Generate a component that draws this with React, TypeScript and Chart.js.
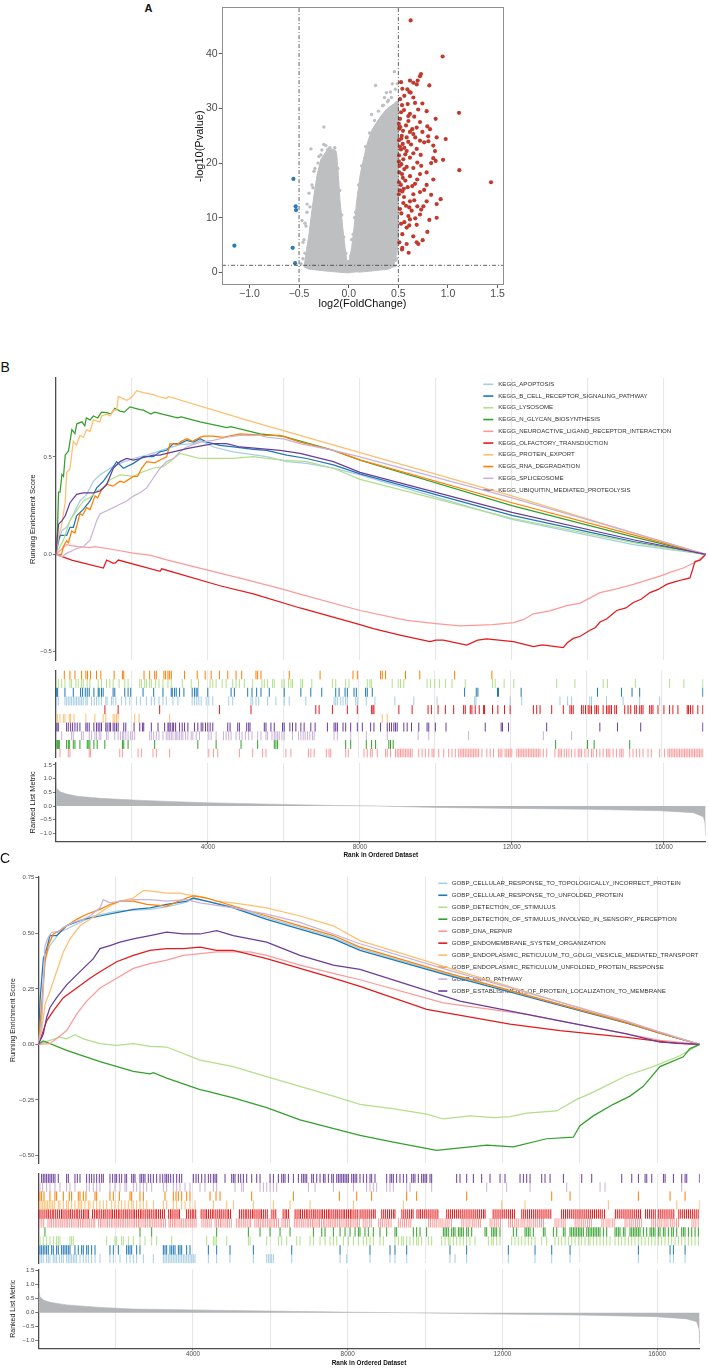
import React, { useEffect, useRef } from 'react';
import { Chart, registerables } from 'chart.js';

Chart.register(...registerables);
const FONT = "'Liberation Sans', Arial, Helvetica, sans-serif";
Chart.defaults.font.family = FONT;

type Pt = [number, number];

// ================= Panel A : volcano =================
const VOLCANO_X_TICKS = [-1.0, -0.5, 0.0, 0.5, 1.0, 1.5];
const VOLCANO_Y_TICKS = [0, 10, 20, 30, 40];
const FC_CUTOFFS = [-0.5, 0.5];
const P_CUTOFF = 1.3;

const UP_GENES: Pt[] = [
  [0.624,46.1],[0.946,39.5],[0.728,36.3],[0.718,35.9],[0.695,35.1],[0.617,35.1],[0.651,34.7],[0.527,34.8],[0.812,34.2],[0.685,34.4],
  [0.540,33.6],[0.591,33.5],[0.611,33.0],[0.624,32.9],[0.560,32.3],[0.651,32.0],[0.517,31.7],[0.668,31.0],[0.742,30.9],[0.594,30.8],
  [0.537,30.6],[0.557,29.7],[0.785,29.5],[1.111,29.2],[0.527,29.3],[0.617,29.0],[0.876,28.1],[0.601,27.7],[0.517,28.1],[0.718,27.5],
  [0.577,26.9],[0.510,26.3],[0.685,26.5],[0.792,26.7],[0.547,25.9],[0.617,25.7],[0.742,25.7],[0.819,26.2],[0.651,25.3],[0.534,25.0],
  [0.584,24.7],[0.977,24.4],[0.886,24.7],[0.802,24.0],[0.507,24.2],[0.718,24.1],[0.628,23.4],[0.544,23.5],[0.685,22.6],[0.852,23.2],
  [0.527,22.5],[0.584,22.2],[0.869,22.2],[0.651,21.8],[0.725,21.5],[0.507,21.4],[0.617,21.0],[0.852,20.9],[0.550,20.7],[0.876,20.4],
  [0.691,20.1],[0.513,19.5],[0.584,19.3],[0.651,19.1],[1.114,18.7],[0.785,18.3],[0.537,18.0],[0.718,18.0],[0.617,17.6],[0.852,17.0],
  [1.433,16.5],[0.570,16.8],[0.507,16.5],[0.668,16.2],[0.785,16.0],[0.594,15.6],[0.517,15.0],[0.718,14.7],[0.651,14.3],[0.557,13.8],
  [0.926,13.4],[0.785,13.0],[0.617,13.0],[0.886,12.5],[0.577,12.2],[0.691,12.1],[0.752,12.1],[0.517,11.6],[0.634,11.3],[0.718,10.6],
  [0.601,10.3],[0.886,10.0],[0.812,9.6],[0.617,9.7],[0.527,8.9],[0.685,8.7],[0.584,8.2],[0.792,7.4],[0.540,7.0],[0.745,5.9],
  [0.701,5.2],[0.584,5.2],[0.540,4.5],[0.537,4.2],[0.604,3.6],[0.685,5.5],
  [0.505,27.2],[0.52,26.6],[0.53,24.5],[0.515,23.0],[0.56,22.8],[0.505,20.3],[0.53,19.8],[0.56,18.9],[0.51,18.3],[0.545,17.3],
  [0.525,16.0],[0.555,15.3],[0.505,14.3],[0.54,14.8],[0.57,21.6],[0.60,23.9],[0.64,26.2],[0.66,28.5],[0.60,28.6],[0.70,29.8],
  [0.67,24.7],[0.76,23.8],[0.73,19.5],[0.69,17.0],[0.64,15.8],[0.76,15.1],[0.83,14.2],[0.66,13.2],[0.55,12.7],[0.61,11.9],
  [0.53,10.8],[0.67,9.9],[0.56,9.2],[0.61,8.6],[0.73,11.5],[0.65,6.6],[0.51,5.5],[0.83,20.0],[0.95,20.6],[0.80,24.9]
];
const DOWN_GENES: Pt[] = [[-0.557,17.1],[-0.534,12.1],[-0.530,11.4],[-0.564,4.5],[-0.540,1.7],[-1.151,4.9]];
const NS_OUTLIERS: Pt[] = [
  [-0.47,9.5],[-0.45,6],[-0.43,8.5],[-0.42,12.5],[-0.40,14.5],[-0.38,22.6],[-0.37,16],[-0.35,18.5],[-0.33,13],[-0.31,20],
  [-0.28,21.5],[-0.25,26.6],[-0.25,23.4],[-0.21,22.5],[-0.19,22.8],[-0.16,21.8],[-0.44,3.5],[-0.46,2.5],[-0.48,1.6],[0.03,6],
  [0.06,10],[0.10,14.5],[0.14,18],[0.18,21],[0.22,24.5],[0.23,28.9],[0.27,34.2],[0.30,27.5],[0.34,30.5],[0.36,32],
  [0.38,32.9],[0.40,31.5],[0.42,33],[0.44,34.5],[0.46,36.7],[0.47,29],[0.48,31],[0.49,28],[0.46,4],[0.48,2.5],[0.49,6],[0.44,1.5],
  [-0.46,5.5],[-0.44,9],[-0.42,11],[-0.41,4.5],[-0.39,12],[-0.36,15.5],[-0.34,19],[-0.30,21.2],[-0.27,22.4],[-0.23,23.2],
  [-0.14,22.8],[-0.11,19],[-0.09,15],[-0.07,10.5],[-0.05,6.5],[-0.03,3.5],[0.02,3],[0.045,7],[0.07,11],[0.1,16],
  [0.13,19.5],[0.17,23],[0.21,25.5],[0.26,27.8],[0.30,29.5],[0.35,30.6],[0.39,31.2],[0.43,32],[0.47,33.5],[0.49,34.5],
  [0.45,29.5],[0.47,2.2],[0.49,4.2],[0.46,1.2]
];
const NS_CLOUD_OUTLINE: Pt[] = [
  [0.0,-0.1],[-0.1,0.05],[-0.2,0.2],[-0.3,0.4],[-0.4,0.6],[-0.45,1.0],[-0.43,3.4],[-0.40,7],[-0.38,10],[-0.35,14.1],
  [-0.32,17.7],[-0.28,20.7],[-0.22,22.3],[-0.17,22.6],[-0.13,22.3],[-0.12,21.5],[-0.104,17.7],[-0.087,13],[-0.06,8.2],[-0.037,4.6],
  [-0.02,2.2],[0.007,2.2],[0.03,4.6],[0.054,8.2],[0.08,13],[0.114,17.7],[0.148,20.7],[0.188,23.7],[0.232,26],[0.315,28.4],
  [0.383,29.9],[0.45,30.8],[0.5,31.4],[0.5,6],[0.483,3.4],[0.45,1.0],[0.4,0.6],[0.3,0.4],[0.2,0.2],[0.1,0.05]
];

// ================= GSEA shared =================
const N_GENES = 17100;
const RANK_GRID = [2000, 4000, 6000, 8000, 10000, 12000, 14000, 16000];
const RANK_LABELED = [4000, 8000, 12000, 16000];
const METRIC_TICKS = [-1.0, -0.5, 0.0, 0.5, 1.0, 1.5];
const PAIRED = ['#A6CEE3','#1F78B4','#B2DF8A','#33A02C','#FB9A99','#E31A1C','#FDBF6F','#FF7F00','#CAB2D6','#6A3D9A'];

// ================= Panel B : KEGG =================
const KEGG_NAMES = [
  'KEGG_APOPTOSIS','KEGG_B_CELL_RECEPTOR_SIGNALING_PATHWAY','KEGG_LYSOSOME','KEGG_N_GLYCAN_BIOSYNTHESIS',
  'KEGG_NEUROACTIVE_LIGAND_RECEPTOR_INTERACTION','KEGG_OLFACTORY_TRANSDUCTION','KEGG_PROTEIN_EXPORT',
  'KEGG_RNA_DEGRADATION','KEGG_SPLICEOSOME','KEGG_UBIQUITIN_MEDIATED_PROTEOLYSIS'
];
const ES_KEGG_APOPTOSIS: Pt[] = [[0,0],[44,0.039],[158,0.123],[283,0.139],[459,0.207],[634,0.274],[810,0.308],[985,0.375],[1160,0.408],[1424,0.442],[1687,0.467],[2038,0.492],[2389,0.509],[2652,0.526],[2915,0.543],[3266,0.563],[3617,0.568],[3792,0.585],[4143,0.551],[4670,0.526],[5547,0.501],[6073,0.476],[6600,0.467],[7302,0.442],[8004,0.408],[12000,0.18],[15195,0.05],[17100,0]];
const ES_KEGG_B_CELL: Pt[] = [[0,0],[70,0.072],[108,0.097],[283,0.097],[371,0.139],[459,0.139],[546,0.198],[722,0.231],[897,0.274],[1073,0.341],[1248,0.375],[1424,0.425],[1599,0.476],[1775,0.442],[2038,0.467],[2301,0.501],[2564,0.501],[2740,0.526],[2915,0.534],[3090,0.568],[3266,0.568],[3442,0.585],[3617,0.576],[3792,0.593],[3968,0.576],[4143,0.568],[4319,0.559],[4670,0.551],[5196,0.539],[5547,0.534],[6073,0.509],[6600,0.492],[7302,0.459],[8004,0.413],[12000,0.20],[15195,0.065],[17100,0]];
const ES_KEGG_LYSOSOME: Pt[] = [[0,0],[108,0.039],[196,0.073],[371,0.173],[546,0.224],[722,0.274],[897,0.291],[1073,0.325],[1248,0.341],[1424,0.383],[1687,0.408],[2038,0.40],[2301,0.425],[2564,0.442],[2827,0.45],[3003,0.476],[3266,0.518],[3442,0.509],[3792,0.492],[4143,0.492],[4670,0.492],[5196,0.501],[5547,0.492],[5986,0.484],[6600,0.476],[7302,0.442],[8004,0.385],[12000,0.185],[15195,0.06],[17100,0]];
const ES_KEGG_N_GLYCAN: Pt[] = [[0,0],[44,0.14],[70,0.32],[110,0.32],[158,0.41],[200,0.40],[246,0.51],[330,0.53],[421,0.64],[500,0.62],[550,0.67],[686,0.68],[760,0.66],[800,0.70],[900,0.69],[985,0.71],[1100,0.70],[1200,0.73],[1336,0.727],[1450,0.72],[1550,0.75],[1687,0.735],[1800,0.73],[1950,0.757],[2213,0.743],[2300,0.74],[2500,0.72],[2600,0.73],[2827,0.718],[3200,0.70],[3300,0.705],[3792,0.68],[4500,0.65],[4600,0.655],[5372,0.618],[5986,0.606],[7302,0.534],[8004,0.483],[12000,0.25],[15195,0.09],[17100,0]];
const ES_KEGG_NEUROACTIVE: Pt[] = [[0,0],[283,0.05],[400,0.045],[600,0.04],[900,0.035],[1029,0.04],[1500,0.025],[2038,0.006],[2500,-0.005],[2915,-0.028],[3967,-0.079],[5000,-0.13],[5986,-0.18],[6424,-0.204],[8003,-0.288],[9232,-0.339],[10000,-0.355],[10634,-0.367],[11500,-0.36],[12037,-0.35],[12300,-0.335],[12564,-0.305],[13000,-0.29],[13441,-0.263],[13800,-0.25],[14318,-0.196],[14700,-0.18],[15195,-0.154],[15600,-0.13],[15897,-0.112],[16200,-0.09],[16510,-0.07],[16863,-0.037],[17100,0]];
const ES_KEGG_OLFACTORY: Pt[] = [[0,0],[415,-0.029],[1249,-0.07],[1336,-0.029],[1500,-0.045],[1555,-0.045],[1643,-0.029],[2740,-0.087],[2784,-0.074],[4319,-0.161],[5196,-0.203],[6424,-0.275],[8003,-0.36],[8352,-0.381],[9055,-0.414],[9845,-0.448],[10000,-0.44],[10196,-0.44],[10810,-0.465],[11100,-0.44],[11337,-0.434],[12037,-0.448],[12564,-0.473],[12800,-0.465],[13353,-0.478],[13450,-0.455],[13616,-0.431],[13800,-0.42],[14055,-0.389],[14200,-0.375],[14318,-0.347],[14500,-0.33],[14757,-0.288],[15000,-0.275],[15195,-0.247],[15400,-0.23],[15634,-0.196],[15850,-0.18],[16073,-0.154],[16300,-0.14],[16511,-0.129],[16686,-0.121],[16818,-0.037],[16950,-0.03],[17100,0]];
const ES_KEGG_PROTEIN_EXPORT: Pt[] = [[0,0],[70,0.09],[158,0.16],[246,0.27],[283,0.42],[371,0.44],[420,0.52],[458,0.58],[540,0.56],[634,0.61],[720,0.60],[810,0.64],[900,0.63],[985,0.69],[1160,0.68],[1200,0.71],[1336,0.72],[1420,0.71],[1511,0.74],[1600,0.74],[1643,0.81],[1862,0.79],[1950,0.80],[2050,0.82],[2125,0.84],[2300,0.83],[2564,0.82],[2700,0.81],[2915,0.80],[2960,0.81],[5000,0.69],[8003,0.522],[12000,0.30],[15195,0.11],[17100,0]];
const ES_KEGG_RNA_DEGRADATION: Pt[] = [[0,0],[150,0],[195,0.04],[283,0.07],[330,0.06],[415,0.12],[500,0.11],[634,0.21],[700,0.20],[810,0.24],[900,0.23],[1029,0.30],[1100,0.29],[1200,0.33],[1336,0.36],[1500,0.35],[1687,0.375],[1800,0.37],[2038,0.40],[2150,0.40],[2250,0.44],[2389,0.476],[2600,0.47],[2740,0.484],[2915,0.50],[3003,0.568],[3200,0.565],[3300,0.58],[3442,0.593],[3600,0.58],[3792,0.60],[3900,0.607],[4143,0.607],[4400,0.60],[4845,0.618],[5547,0.61],[5898,0.61],[6425,0.576],[7302,0.534],[8004,0.485],[12000,0.265],[15195,0.10],[17100,0]];
const ES_KEGG_SPLICEOSOME: Pt[] = [[0,0],[158,-0.012],[283,0.005],[546,0.03],[722,0.039],[897,0.073],[1073,0.173],[1160,0.207],[1336,0.224],[1511,0.24],[1687,0.257],[1862,0.274],[2038,0.299],[2213,0.316],[2389,0.341],[2564,0.392],[2740,0.442],[2915,0.476],[3090,0.492],[3266,0.526],[3442,0.551],[3792,0.576],[4143,0.585],[4494,0.601],[4845,0.61],[5372,0.61],[5547,0.601],[5986,0.593],[6425,0.568],[7302,0.534],[8004,0.50],[12000,0.29],[15195,0.11],[17100,0]];
const ES_KEGG_UBIQUITIN: Pt[] = [[0,0],[70,0.155],[158,0.172],[246,0.198],[371,0.265],[546,0.308],[722,0.316],[985,0.316],[1160,0.325],[1336,0.358],[1511,0.442],[1687,0.476],[1862,0.492],[2038,0.484],[2213,0.492],[2389,0.501],[2564,0.509],[2740,0.509],[2915,0.518],[3090,0.526],[3442,0.543],[3792,0.556],[4143,0.568],[4494,0.568],[4845,0.551],[5372,0.543],[5898,0.534],[6425,0.518],[7302,0.476],[8004,0.421],[12000,0.215],[15195,0.075],[17100,0]];

const HITS_KEGG_APOPTOSIS = [20,64,239,283,327,371,415,459,503,547,590,634,678,722,792,827,941,1011,1073,1134,1204,1318,1353,1468,1511,1581,1730,1845,1950,2126,2231,2389,2520,2608,2722,2827,2915,3090,3222,3599,3661,3722,3775,3836,3968,4038,4143,4564,4669,5152,5196,5283,5354,5590,5810,6029,6161,6599,7345,7389,7433,7521,7582,7652,7696,7915,7959,8196,8424,8950,9450,10064,11056,11091,11994,12301,13310,13512,13617,14099,14143,14538,14977,15415,15942];
const HITS_KEGG_B_CELL = [20,46,239,459,652,704,775,827,880,1003,1117,1143,1204,1248,1511,1555,1818,1906,1976,2301,2582,2827,3046,3073,3134,3178,3266,3380,3599,3661,3705,3748,4011,4626,4713,5064,5178,5301,5415,5634,6029,6468,6731,7020,7389,7477,7635,7696,7872,7933,8178,8222,8354,10792,11099,11143,11661,11687,12284,14301,14933,15213,15415,17082];
const HITS_KEGG_LYSOSOME = [3,64,152,239,371,415,529,590,678,722,827,897,1117,1204,1336,1424,1511,1669,1818,1906,2213,2257,2345,2389,2476,2520,2634,2722,2827,2959,3046,3336,3573,3766,4073,4143,4231,4389,4494,4669,4757,4845,4976,5196,5441,5503,5591,5722,5766,5968,6029,6143,6205,6248,6468,6512,6757,7301,7389,7652,7740,8222,8292,8336,8880,9038,9099,9187,9801,9889,10003,10126,10284,10459,10810,11529,11599,11836,12091,13222,13705,14450,14564,15301,16205,16582,17082];
const HITS_KEGG_N_GLYCAN = [3,38,64,90,283,327,354,459,503,634,827,853,897,1003,1090,1292,1757,1792,1906,2608,3748,4231,4889,5327,5766,5810,5854,7652,7784,8196,8336,8442,8792,8836,8906,13196,14038,14213,15152];
const HITS_KEGG_NEUROACTIVE = [108,327,371,880,915,1687,1757,2170,2257,2564,2652,3003,4038,4161,4275,4845,5196,5459,5547,6073,6205,6669,6731,6819,7143,7213,7257,7652,7722,
  8135,8222,8310,8354,8485,8705,8749,8836,8968,9012,9056,9099,9143,9187,9231,9275,9319,9363,9406,9582,9670,9757,9845,9933,9977,10108,10240,10371,10459,10547,10634,10678,10722,10766,10810,10854,10898,10942,10985,11029,11073,11117,11161,11249,11380,11468,11556,11687,11731,11775,11862,11906,11950,11994,12038,12170,12214,12257,12301,12345,12389,12433,12477,12521,12564,12608,12652,12696,12740,12784,12871,12959,13178,13266,13310,13354,13424,13485,13547,13617,13705,13792,13836,13880,13968,14055,14143,14187,14275,14363,14450,14538,14582,14626,14714,14801,14889,14933,14977,15152,15240,15327,15415,15503,15635,15722,15942,16073,16161,16205,16249,16292,16336,16380,16424,16468,16512,16556,16599,16643,16687,16731,16775,16819,16863,16906,16950,16994,17038,17082];
const HITS_KEGG_OLFACTORY = [1294,1643,2740,4318,5152,6863,6950,7301,7696,7959,8336,8371,8398,9056,9406,9827,9915,10091,10284,10503,10766,10810,10942,10985,11073,11178,11292,11319,11529,11670,11845,11994,12608,12696,12784,13091,13398,13573,13617,13661,13880,13924,13985,14055,14099,14143,14231,14275,14319,14450,14538,14582,14626,14670,14757,14801,15020,15108,15178,15284,15327,15415,15459,15503,15678,15722,15766,15898,16055,16205,16292,16424,16670,16705,16757,16819,16950,17082];
const HITS_KEGG_PROTEIN_EXPORT = [3,38,108,196,239,354,389,477,792,1029,1248,1318,1511,1555,1599,1643,2082,2196,3003,8617,8749];
const HITS_KEGG_RNA_DEGRADATION = [222,371,503,678,792,836,915,1073,1187,1538,1757,1792,2327,2476,2608,2652,2853,2897,2959,3003,3046,3397,3731,3941,4099,4318,4538,4757,4906,5283,5327,5415,6161,6976,7845,7959,8573,8617,8705,9231,9608,10529,11512];
const HITS_KEGG_SPLICEOSOME = [152,415,459,678,722,880,941,1029,1073,1143,1187,1336,1380,1555,1643,1704,1757,1792,1845,1906,1967,2020,2082,2476,2520,2582,2652,2722,2827,2915,2959,3003,3046,3090,3152,3178,3222,3266,3310,3354,3424,3485,3573,3617,3705,3792,4038,4099,4231,4424,4494,4564,4626,4757,4845,4915,5003,5091,5178,5327,5415,5547,5591,5705,5766,5810,5854,5898,5968,6029,6248,6406,6468,6529,6582,6643,6705,6775,6819,7345,7433,7784,8196,8749,9564,9845,10898,12871,13617];
const HITS_KEGG_UBIQUITIN = [0,30,64,283,327,389,441,503,564,634,792,827,880,1003,1073,1117,1161,1204,1318,1353,1406,1441,1511,1555,1599,1643,1792,1845,2064,2213,2284,2319,2520,2696,2871,2959,2985,3020,3073,3108,3161,3266,3336,3397,3485,3661,3748,3836,3880,3950,4011,4073,4143,4538,4599,4801,4845,5038,5091,5126,5503,5547,5678,5766,5985,6029,6178,6248,6336,6468,6555,6731,6845,7169,7345,7389,7433,7582,7652,7784,7959,8091,8310,8398,8573,8749,8810,8863,8924,8968,9012,9187,9275,9389,9582,9801,9845,10020,10301,11336,11757,11792,11950,12959,14363,14828,15442,17082];

const METRIC_KEGG: Pt[] = [[0,0.95],[20,0.65],[108,0.52],[283,0.44],[546,0.36],[1160,0.28],[2038,0.22],[2915,0.17],[3968,0.12],[5986,0.06],[7302,0.02],[8500,0],[10021,-0.05],[12037,-0.085],[14055,-0.12],[15897,-0.17],[16774,-0.24],[17037,-0.39],[17080,-0.6],[17100,-1.1]];

// ================= Panel C : GO BP =================
const GO_NAMES = [
  'GOBP_CELLULAR_RESPONSE_TO_TOPOLOGICALLY_INCORRECT_PROTEIN','GOBP_CELLULAR_RESPONSE_TO_UNFOLDED_PROTEIN',
  'GOBP_DETECTION_OF_STIMULUS','GOBP_DETECTION_OF_STIMULUS_INVOLVED_IN_SENSORY_PERCEPTION','GOBP_DNA_REPAIR',
  'GOBP_ENDOMEMBRANE_SYSTEM_ORGANIZATION','GOBP_ENDOPLASMIC_RETICULUM_TO_GOLGI_VESICLE_MEDIATED_TRANSPORT',
  'GOBP_ENDOPLASMIC_RETICULUM_UNFOLDED_PROTEIN_RESPONSE','GOBP_ERAD_PATHWAY','GOBP_ESTABLISHMENT_OF_PROTEIN_LOCALIZATION_TO_MEMBRANE'
];
const ES_GO_TOPOLOGICALLY: Pt[] = [[0,0],[87,0.121],[173,0.386],[302,0.445],[561,0.505],[906,0.534],[1423,0.578],[2026,0.600],[2888,0.608],[3319,0.619],[3836,0.640],[4009,0.655],[4353,0.645],[5042,0.619],[5904,0.571],[6766,0.527],[7627,0.482],[8317,0.431],[10500,0.32],[13488,0.18],[15212,0.10],[16073,0.05],[17100,0]];
const ES_GO_UNFOLDED: Pt[] = [[0,0],[44,0.195],[130,0.386],[216,0.431],[302,0.490],[475,0.490],[733,0.534],[1164,0.563],[1595,0.578],[2026,0.593],[2457,0.608],[2888,0.615],[3319,0.630],[3836,0.645],[4009,0.659],[4353,0.645],[5042,0.615],[5904,0.563],[6766,0.519],[7627,0.475],[8317,0.423],[10500,0.315],[13488,0.175],[15212,0.095],[16073,0.05],[17100,0]];
const ES_GO_DETECTION: Pt[] = [[0,0],[302,0.018],[561,0.032],[733,0.025],[948,0.044],[1164,0.025],[1595,0.003],[2026,-0.004],[2457,0.003],[2888,-0.009],[3319,-0.012],[4181,-0.071],[4612,-0.086],[5042,-0.1],[5904,-0.145],[6766,-0.189],[7627,-0.233],[8317,-0.27],[9200,-0.29],[10041,-0.314],[10470,-0.336],[11161,-0.322],[11800,-0.33],[12195,-0.325],[12627,-0.31],[13400,-0.30],[13900,-0.25],[14350,-0.215],[15212,-0.14],[15900,-0.10],[16600,-0.05],[17100,0]];
const ES_GO_SENSORY: Pt[] = [[0,0],[130,0.015],[733,-0.027],[1595,-0.078],[2457,-0.122],[2888,-0.133],[2974,-0.127],[3319,-0.152],[4181,-0.204],[4353,-0.211],[5042,-0.241],[5904,-0.285],[6766,-0.34],[8317,-0.41],[9178,-0.44],[10300,-0.477],[10729,-0.469],[11592,-0.454],[12280,-0.462],[13143,-0.425],[13832,-0.418],[14004,-0.366],[14349,-0.322],[14866,-0.27],[15298,-0.233],[15641,-0.189],[16073,-0.10],[16676,-0.056],[16849,-0.019],[17100,0]];
const ES_GO_DNA_REPAIR: Pt[] = [[0,0],[302,0.003],[518,0.032],[733,0.062],[992,0.136],[1251,0.195],[1595,0.254],[2026,0.298],[2457,0.342],[2888,0.364],[3319,0.379],[3750,0.401],[4181,0.409],[4612,0.416],[5042,0.416],[5473,0.416],[5904,0.401],[6766,0.357],[7627,0.320],[8317,0.291],[10470,0.187],[12627,0.135],[14349,0.077],[16073,0.018],[17100,0]];
const ES_GO_ENDOMEMBRANE: Pt[] = [[0,0],[130,0.062],[216,0.106],[388,0.151],[647,0.210],[992,0.254],[1336,0.298],[1595,0.327],[2026,0.372],[2457,0.401],[2888,0.423],[3319,0.431],[3750,0.431],[4181,0.438],[4612,0.423],[5042,0.423],[5904,0.386],[6766,0.342],[7627,0.298],[8317,0.261],[10041,0.158],[12195,0.091],[13488,0.062],[15212,0.032],[16504,0.005],[17100,0]];
const ES_GO_ER_GOLGI: Pt[] = [[0,0],[87,0.062],[173,0.180],[302,0.239],[475,0.328],[647,0.416],[820,0.475],[1078,0.534],[1336,0.563],[1595,0.593],[1853,0.623],[2112,0.645],[2457,0.659],[2715,0.693],[2974,0.689],[3319,0.681],[3664,0.681],[3836,0.674],[4181,0.667],[4612,0.645],[5042,0.637],[5904,0.615],[6766,0.578],[7627,0.534],[8317,0.467],[10500,0.35],[13488,0.19],[15212,0.10],[16073,0.055],[17100,0]];
const ES_GO_ER_UPR: Pt[] = [[0,0],[87,0.180],[173,0.372],[259,0.445],[388,0.497],[561,0.512],[733,0.534],[992,0.563],[1251,0.586],[1595,0.608],[1853,0.630],[2112,0.645],[2457,0.645],[2802,0.630],[3319,0.623],[3836,0.659],[4009,0.669],[4353,0.659],[5042,0.623],[5904,0.578],[6766,0.534],[7627,0.490],[8317,0.438],[10500,0.325],[13488,0.18],[15212,0.098],[16073,0.05],[17100,0]];
const ES_GO_ERAD: Pt[] = [[0,0],[87,0.092],[173,0.445],[259,0.482],[345,0.505],[518,0.508],[647,0.527],[906,0.549],[1164,0.563],[1336,0.578],[1595,0.615],[1681,0.652],[1853,0.637],[2112,0.645],[2457,0.652],[2888,0.652],[3319,0.645],[3836,0.652],[4181,0.637],[5042,0.615],[5904,0.586],[6766,0.549],[7627,0.497],[8317,0.453],[10500,0.34],[13488,0.19],[15212,0.105],[16073,0.055],[17100,0]];
const ES_GO_ESTABLISHMENT: Pt[] = [[0,0],[130,0.047],[216,0.121],[302,0.166],[475,0.210],[733,0.268],[992,0.313],[1251,0.357],[1423,0.386],[1595,0.431],[1853,0.445],[2112,0.460],[2457,0.475],[2888,0.490],[3319,0.505],[3750,0.497],[4181,0.497],[4612,0.512],[5042,0.490],[5904,0.460],[6766,0.401],[7627,0.357],[8317,0.338],[10901,0.195],[13488,0.106],[15212,0.047],[16073,0.01],[17100,0]];

const HITS_GO_ESTABLISHMENT = [86,129,172,216,259,302,345,388,431,517,733,776,948,1009,1078,1250,1319,1379,1440,1509,1578,1638,1681,1853,1922,1983,2026,2095,2155,2241,2284,2414,2457,2500,2629,2672,2715,2758,2845,2905,2974,3060,3147,3216,3276,3319,3362,3422,3491,3578,3647,3707,4009,4078,4138,4224,4310,4397,4457,4526,4569,4612,4828,5000,5043,5086,5172,5233,5302,5388,5517,5647,5733,5991,6078,6207,6293,6336,6379,6466,6595,6724,6810,6853,6897,6940,7069,7112,7198,7284,7371,7414,7500,7586,7629,7716,7759,7802,7845,7888,7931,7974,8017,8103,8147,8190,8233,8317,8403,8489,8576,8619,8705,9007,9093,9136,9179,9265,9351,9438,9524,9653,9696,9739,9825,9911,9955,9998,10041,10127,10170,10817,10903,11076,11248,11463,11679,11938,12067,12455,12541,12627,12714,13015,13101,13231,13576,14050,14308,15084,15343,15515,15688,15731,15860,16162,16205,16420,16636,16722,16765,17093];
const HITS_GO_ERAD = [43,112,216,302,431,560,733,819,948,1250,1319,1422,1509,1595,1853,1983,2112,2241,2284,2457,2543,2629,2716,2802,2931,3233,3319,3491,3578,3664,3793,3922,4181,4310,4526,4612,5086,5259,5302,5733,5819,5905,5991,6078,6164,6983,7155,7629,8147,8489,8576,8662,8748,9007,9093,9179,9524,9610,10170,11593,12110,12714,13662,14524,14653,16636];
const HITS_GO_ER_UPR = [43,86,147,302,431,474,647,802,862,1034,1078,1164,1233,1466,1509,1853,1940,2095,2371,2414,2629,2716,3276,3491,3560,3621,3707,3836,3922,4440,4595,4698,5517,6595,7784,8233,8619,9524,9782,11076,13274,13748,15515,16334,16722];
const HITS_GO_ER_GOLGI = [26,69,112,155,198,241,284,328,371,414,517,560,647,733,776,862,948,1034,1078,1121,1207,1293,1336,1422,1509,1595,1681,1767,1897,1983,2069,2155,2241,2328,2414,2457,2543,2629,2716,2802,2974,3233,3319,3491,3578,3707,3793,3922,4052,4526,4871,5043,5560,6078,6509,7026,8147,9438,11981,12584,14739,16507,17093];
const HITS_GO_ENDOMEMBRANE = [20,70,120,170,220,260,310,360,400,450,500,550,600,640,690,740,790,830,880,930,980,1020,1070,1120,1170,1210,1260,1300,1400,1450,1500,1540,1590,1640,1690,1730,1780,1830,1880,1920,1970,2020,2070,2110,2160,2210,2260,2300,2350,2400,2450,2490,2540,2590,2640,2680,2730,2780,2830,2870,2920,2970,3020,3060,3110,3160,3210,3260,3370,3420,3460,3510,3560,3610,3650,3830,3880,3930,3980,4020,4070,4210,4260,4310,4350,4400,4450,4500,4540,4590,4640,4690,4730,4780,4830,4880,4920,4970,5200,5250,5300,5350,5390,5440,5490,5540,5580,5630,5680,5730,5770,5820,5870,5920,6040,6090,6140,6330,6380,6420,6470,6640,6690,6740,6780,6830,6880,6930,6970,7020,7070,7120,7160,7210,7260,7310,7350,7400,7450,7500,7540,7590,7640,7690,7730,7780,7830,7880,7920,7970,8020,8070,8110,8160,8210,8260,
  8320,8370,8420,8470,8520,8570,8620,8670,8710,8880,8930,8980,9030,9080,9130,9180,9220,9400,9450,9500,9550,9600,9650,9690,9790,9840,9880,9930,9980,10030,10080,10130,10180,10230,10280,10330,10560,10610,10660,10710,10760,10810,10860,10910,10960,11010,11060,11110,11160,11210,11260,11310,11360,11410,11460,11510,11550,11760,11810,11860,11910,11960,12010,12060,12110,12160,12210,12260,12310,12500,12550,12600,12650,12700,12750,12800,12850,12900,12950,13000,13050,13100,13150,13200,13250,13530,13580,13630,13680,13730,13780,13830,13880,13930,13980,14030,14080,14130,14180,14230,14280,14330,14380,14430,14480,14530,14580,14640,14920,14970,15020,15070,15120,15170,15220,15270,15320,15370,15420,15470,15520,15570,15700,15750,15800,15850,15900,15950,16030,16080,16130,16180,16230,16280,16330,16380,16430,16560,16610,16660,16710,16760,16810,16860,16910,16960,17010,17060];
const HITS_GO_DNA_REPAIR = [40,90,140,250,300,340,390,440,480,530,580,620,670,720,760,810,860,900,950,1000,1040,1090,1140,1180,1230,1280,1320,1370,1420,1460,1560,1610,1650,1700,1750,1790,1840,1890,1930,1980,2030,2070,2120,2170,2210,2260,2310,2350,2400,2450,2490,2540,2590,2630,2680,2730,2770,2820,2870,2910,2960,3010,3050,3100,3150,3190,3240,3290,3380,3420,3470,3520,3560,3610,3660,3700,3750,3800,3840,3890,3940,3980,4030,4080,4230,4280,4330,4370,4420,4470,4570,4610,4660,4710,4750,4800,4850,4890,4940,4990,5120,5170,5210,5260,5310,5350,5400,5450,5490,5600,5650,5690,5740,5790,5830,5880,5930,5970,6020,6070,6110,6160,6210,6300,6350,6390,6440,6490,6620,6670,6710,6760,6810,6850,6900,6950,6990,7040,7090,7130,7180,7230,7270,7320,7370,7410,7460,7510,7550,7600,7650,7690,7740,7790,7830,7880,7930,7970,8020,8070,8110,8160,8210,8250,8300,
  8400,8450,8500,8560,8610,8800,8850,8900,8960,9010,9060,9120,9310,9360,9420,9470,9520,9580,9630,10090,10140,10200,10250,10300,10360,10410,10460,10520,10570,10620,10680,10950,11000,11060,11110,11160,11220,11270,11320,11380,11430,11680,11730,11790,11840,11890,11950,12160,12210,12260,12320,12370,12420,12480,12530,12580,12640,12690,12740,12800,12850,12900,12960,13010,13060,13360,13410,13460,13520,13570,13620,13880,13930,13980,14040,14090,14140,14200,14250,14300,14570,14620,14680,14730,14780,14840,14890,15170,15220,15280,15330,15380,15440,15490,15540,15600,15860,15910,15960,16020,16070,16120,16180,16230,16280,16340,16390,16440,16500,16550,16900,16950,17000,17060];
const HITS_GO_SENSORY = [172,2629,2931,4612,5431,5733,5991,6250,6509,7112,7328,7414,7629,7802,7931,8060,8190,8276,8317,8446,8532,8662,8834,9007,9222,9265,9696,9782,9869,10041,10472,10515,10558,10601,10688,10731,10774,10860,10903,10946,10989,11075,11118,11205,11549,11592,11722,11765,11808,11851,11937,12282,12368,12584,12627,12670,12713,12799,13058,13101,13317,13403,13575,13618,13748,13791,13834,13877,13920,13963,14006,14049,14092,14179,14222,14265,14308,14351,14394,14437,14480,14523,14610,14696,14911,14954,14997,15040,15126,15169,15299,15342,15385,15428,15471,15514,15557,15644,15730,15816,15859,15902,15945,16032,16075,16161,16204,16290,16376,16419,16506,16635,16678,16721,16808,16894,16980,17066];
const HITS_GO_DETECTION = [43,129,216,302,388,474,517,560,819,862,905,1767,1983,2026,2155,2198,2328,2457,2629,2758,2931,3060,3448,4353,4526,4569,4612,4871,5431,5474,5905,6207,6293,6422,6681,6767,7026,7112,7284,7414,7543,7629,7716,7888,8017,8147,8276,8403,8489,8576,8662,8834,8920,9222,9308,9394,9438,9524,9610,9696,9782,9825,9911,10084,10170,10429,10515,10601,10644,10731,10817,10903,10989,11075,11162,11291,11636,11722,11765,11851,11937,12239,12325,12411,12498,12584,12670,12756,12843,13015,13144,13360,13446,13532,13618,13705,13791,13877,13963,14049,14136,14222,14265,14351,14437,14523,14610,14696,14782,14911,14997,15083,15169,15256,15342,15428,15514,15600,15687,15773,15859,15945,16032,16118,16204,16290,16376,16463,16549,16635,16721,16808,16894,16980,17066];
const HITS_GO_UNFOLDED = [43,86,129,172,216,259,345,388,474,517,603,647,690,733,776,819,948,1034,1121,1164,1250,1293,1379,1466,1853,1940,2069,2284,2328,2371,2414,2543,2629,3233,3276,3319,3405,3448,3491,3535,3621,3664,3707,3836,3922,4397,4612,4957,5560,6552,7802,8576,9093,9222,9524,10644,11075,12153,12843,13274,13748,15515,16334,16420,16722];
const HITS_GO_TOPOLOGICALLY = [43,86,129,216,259,302,388,431,474,543,603,647,733,776,819,862,905,948,991,1078,1164,1233,1293,1379,1466,1595,1853,1940,2112,2284,2371,2457,2543,2716,2974,3233,3276,3319,3362,3405,3448,3491,3535,3578,3621,3664,3707,3750,3793,3836,3879,3922,3965,4009,4052,4397,4612,4957,5560,5905,5948,5991,6034,6078,6552,7802,7974,8576,9093,9222,9524,10644,10774,11075,12153,12843,13274,13748,15515,16334,16420,16722];

const METRIC_GO: Pt[] = [[0,0.87],[44,0.57],[130,0.45],[302,0.37],[733,0.28],[1595,0.19],[2457,0.13],[3982,0.10],[5904,0.06],[8317,0.015],[9500,0],[11980,-0.05],[13960,-0.08],[15969,-0.14],[16763,-0.22],[17021,-0.32],[17089,-0.62],[17100,-1.1]];

// ================= helpers =================
const toXY = (pts: Pt[]) => pts.map(([x, y]) => ({ x, y }));
const fmt = (d: number) => (v: any) => { const n = Number(v); return (n < 0 ? '\u2212' : '') + Math.abs(n).toFixed(d); };
const setTicks = (vals: number[]) => (s: any) => { s.ticks = vals.map((value) => ({ value })); };
const fixW = (w: number) => (s: any) => { s.width = w; };
const fixH = (h: number) => (s: any) => { s.height = h; };
const AXIS = '#4d4d4d';
const base = () => ({
  responsive: false, maintainAspectRatio: false, animation: false, devicePixelRatio: 1, events: [],
  plugins: { legend: { display: false }, tooltip: { enabled: false } },
});

const boxPlugin = {
  id: 'panelBox',
  afterDatasetsDraw(chart: any) {
    const { ctx, chartArea: a } = chart;
    ctx.save(); ctx.strokeStyle = '#8f8f8f'; ctx.lineWidth = 1;
    ctx.strokeRect(Math.round(a.left) + 0.5, Math.round(a.top) + 0.5, Math.round(a.width) - 1, Math.round(a.height) - 1);
    ctx.restore();
  },
};

const legendPlugin = (names: string[], colors: string[], L: any) => ({
  id: 'gseaLegend',
  beforeDatasetsDraw(chart: any) {
    const ctx = chart.ctx;
    ctx.save();
    ctx.font = `${L.size}px ${FONT}`; ctx.textBaseline = 'middle'; ctx.textAlign = 'left';
    names.forEach((n, i) => {
      const y = L.y0 + i * L.dy;
      ctx.strokeStyle = colors[i]; ctx.lineWidth = 1.6;
      ctx.beginPath(); ctx.moveTo(L.x0, y); ctx.lineTo(L.x1, y); ctx.stroke();
      ctx.fillStyle = '#333333'; ctx.fillText(n, L.xt, y);
    });
    ctx.restore();
  },
});

// ================= volcano config =================
const GRAY = '#bdbfc1';
function volcanoConfig(): any {
  const vline = (x: number) => ({ data: [{ x, y: -10 }, { x, y: 60 }], showLine: true, borderColor: '#3a3a3a', borderWidth: 0.8, borderDash: [4, 2, 1, 2], pointRadius: 0, order: 1 });
  return {
    type: 'scatter',
    data: {
      datasets: [
        { data: toXY(NS_CLOUD_OUTLINE), showLine: true, fill: 'shape', backgroundColor: GRAY, borderColor: GRAY, borderWidth: 1, pointRadius: 0, order: 6 },
        { data: toXY(NS_OUTLIERS), backgroundColor: GRAY, borderWidth: 0, pointRadius: 1.7, order: 5 },
        { data: toXY(UP_GENES), backgroundColor: '#c23a2e', borderWidth: 0, pointRadius: 2.1, order: 3 },
        { data: toXY(DOWN_GENES), backgroundColor: '#2a7ab8', borderWidth: 0, pointRadius: 2.1, order: 3 },
        ...FC_CUTOFFS.map(vline),
        { data: [{ x: -2, y: P_CUTOFF }, { x: 2, y: P_CUTOFF }], showLine: true, borderColor: '#3a3a3a', borderWidth: 0.8, borderDash: [4, 2, 1, 2], pointRadius: 0, order: 1 },
      ],
    },
    options: {
      ...base(),
      layout: { padding: { left: 0, top: 1, right: 16.7, bottom: 0 } },
      scales: {
        x: {
          type: 'linear', min: -1.279, max: 1.557,
          afterBuildTicks: setTicks(VOLCANO_X_TICKS), afterFit: fixH(35),
          grid: { drawOnChartArea: false, tickLength: 3, tickColor: '#333', lineWidth: 0.8 },
          border: { display: false },
          ticks: { font: { size: 10.5 }, color: AXIS, padding: 0, maxRotation: 0, autoSkip: false, callback: fmt(1) },
          title: { display: true, text: 'log2(FoldChange)', color: '#111', font: { size: 11 }, padding: { top: 0, bottom: 9.4 } },
        },
        y: {
          type: 'linear', min: -2.3, max: 48.5,
          afterBuildTicks: setTicks(VOLCANO_Y_TICKS), afterFit: fixW(35.7),
          grid: { drawOnChartArea: false, tickLength: 3, tickColor: '#333', lineWidth: 0.8 },
          border: { display: false },
          ticks: { font: { size: 10.5 }, color: AXIS, padding: 1, callback: (v: any) => String(v) },
          title: { display: true, text: '-log10(Pvalue)', color: '#111', font: { size: 11 }, padding: { top: 7.4, bottom: 0 } },
        },
      },
    },
    plugins: [boxPlugin],
  };
}

// ================= GSEA configs =================
function rankX(show: boolean, axisH: number, titlePadBottom: number, tickPad: number): any {
  return {
    type: 'linear', min: 0, max: N_GENES,
    afterBuildTicks: setTicks(RANK_GRID), afterFit: fixH(show ? axisH : 0),
    grid: {
      color: '#e7e7e7', lineWidth: 1.1, drawTicks: show, tickLength: 2,
      tickColor: (c: any) => (c.tick && RANK_LABELED.includes(c.tick.value) ? AXIS : 'rgba(0,0,0,0)'),
    },
    border: { display: show, color: AXIS, width: 1.3 },
    ticks: { display: show, font: { size: 6.4 }, color: AXIS, padding: tickPad, autoSkip: false, maxRotation: 0, callback: (v: any) => (RANK_LABELED.includes(Number(v)) ? String(v) : '') },
    title: { display: show, text: 'Rank in Ordered Dataset', color: '#111', font: { size: 6.4, weight: 'bold' }, padding: { top: 0, bottom: titlePadBottom } },
  };
}
function leftY(min: number, max: number, w: number, ticks: number[] | null, dec: number, title: string | null, tSize: number, tPad: number, reverse = false): any {
  return {
    type: 'linear', min, max, reverse,
    afterBuildTicks: ticks ? setTicks(ticks) : undefined,
    afterFit: fixW(w),
    grid: ticks ? { drawOnChartArea: false, drawTicks: true, tickLength: 3, tickColor: AXIS, lineWidth: 0.8 } : { display: false },
    border: { display: true, color: AXIS, width: 1.3 },
    ticks: ticks ? { font: { size: 6 }, color: AXIS, padding: 1, callback: fmt(dec) } : { display: false },
    title: title ? { display: true, text: title, color: '#1a1a1a', font: { size: tSize }, padding: { top: tPad, bottom: 0 } } : { display: false },
  };
}

interface GseaSpec {
  names: string[]; colors: string[]; es: Pt[][]; rows: number[][]; rowColors: string[]; metric: Pt[];
  esMin: number; esMax: number; esTicks: number[]; esDec: number; mMin: number; mMax: number;
  chartLeft: number; padRight: number; esPadTop: number; mPadTop: number; mAxisH: number;
  titleSize: number; titlePad: number; xTitlePadBottom: number; xTickPad: number; rowRadius: number; legend: any;
}

const KEGG_SPEC: GseaSpec = {
  names: KEGG_NAMES, colors: PAIRED,
  es: [ES_KEGG_APOPTOSIS, ES_KEGG_B_CELL, ES_KEGG_LYSOSOME, ES_KEGG_N_GLYCAN, ES_KEGG_NEUROACTIVE, ES_KEGG_OLFACTORY, ES_KEGG_PROTEIN_EXPORT, ES_KEGG_RNA_DEGRADATION, ES_KEGG_SPLICEOSOME, ES_KEGG_UBIQUITIN],
  rows: [HITS_KEGG_RNA_DEGRADATION, HITS_KEGG_LYSOSOME, HITS_KEGG_B_CELL, HITS_KEGG_APOPTOSIS, HITS_KEGG_OLFACTORY, HITS_KEGG_PROTEIN_EXPORT, HITS_KEGG_UBIQUITIN, HITS_KEGG_SPLICEOSOME, HITS_KEGG_N_GLYCAN, HITS_KEGG_NEUROACTIVE],
  rowColors: [PAIRED[7], PAIRED[2], PAIRED[1], PAIRED[0], PAIRED[5], PAIRED[6], PAIRED[9], PAIRED[8], PAIRED[3], PAIRED[4]],
  metric: METRIC_KEGG,
  esMin: -0.544, esMax: 0.905, esTicks: [-0.5, 0, 0.5], esDec: 1, mMin: -1.3, mMax: 1.57,
  chartLeft: 55.9, padRight: 3.3, esPadTop: 8, mPadTop: 5, mAxisH: 20.3,
  titleSize: 7.5, titlePad: 28.5, xTitlePadBottom: 3.2, xTickPad: 0, rowRadius: 4.5,
  legend: { x0: 483.3, x1: 493.3, xt: 498.3, y0: 14.3, dy: 11.75, size: 6.1 },
};
const GO_SPEC: GseaSpec = {
  names: GO_NAMES, colors: PAIRED,
  es: [ES_GO_TOPOLOGICALLY, ES_GO_UNFOLDED, ES_GO_DETECTION, ES_GO_SENSORY, ES_GO_DNA_REPAIR, ES_GO_ENDOMEMBRANE, ES_GO_ER_GOLGI, ES_GO_ER_UPR, ES_GO_ERAD, ES_GO_ESTABLISHMENT],
  rows: [HITS_GO_ESTABLISHMENT, HITS_GO_ERAD, HITS_GO_ER_UPR, HITS_GO_ER_GOLGI, HITS_GO_ENDOMEMBRANE, HITS_GO_DNA_REPAIR, HITS_GO_SENSORY, HITS_GO_DETECTION, HITS_GO_UNFOLDED, HITS_GO_TOPOLOGICALLY],
  rowColors: [PAIRED[9], PAIRED[8], PAIRED[7], PAIRED[6], PAIRED[5], PAIRED[4], PAIRED[3], PAIRED[2], PAIRED[1], PAIRED[0]],
  metric: METRIC_GO,
  esMin: -0.536, esMax: 0.755, esTicks: [-0.5, -0.25, 0, 0.25, 0.5, 0.75], esDec: 2, mMin: -1.27, mMax: 1.55,
  chartLeft: 38.3, padRight: 9.3, esPadTop: 6.7, mPadTop: 5.3, mAxisH: 22.7,
  titleSize: 7, titlePad: 9.1, xTitlePadBottom: 4.4, xTickPad: 0.5, rowRadius: 4.7,
  legend: { x0: 438.3, x1: 447.3, xt: 451.7, y0: 13.3, dy: 11.97, size: 6.2 },
};

function esConfig(s: GseaSpec): any {
  return {
    type: 'scatter',
    data: {
      datasets: s.es.map((pts, i) => ({
        label: s.names[i], data: toXY(pts), showLine: true, borderColor: s.colors[i], borderWidth: 1.25,
        pointRadius: 0, fill: false, order: 20 - i,
      })),
    },
    options: {
      ...base(),
      layout: { padding: { left: 0, top: s.esPadTop, right: s.padRight, bottom: 0 } },
      scales: {
        x: rankX(false, 0, 0, 0),
        y: leftY(s.esMin, s.esMax, s.chartLeft, s.esTicks, s.esDec, 'Running Enrichment Score', s.titleSize, s.titlePad),
      },
    },
    plugins: [legendPlugin(s.names, s.colors, s.legend)],
  };
}
function hitsConfig(s: GseaSpec): any {
  return {
    type: 'scatter',
    data: {
      datasets: s.rows.map((hits, r) => ({
        data: hits.map((x) => ({ x, y: r + 1 })),
        pointStyle: 'line', pointRadius: s.rowRadius, pointRotation: 90,
        pointBorderColor: s.rowColors[r], pointBorderWidth: 1, borderColor: s.rowColors[r], backgroundColor: s.rowColors[r],
      })),
    },
    options: {
      ...base(),
      layout: { padding: { left: 0, top: 0, right: s.padRight, bottom: 0 } },
      scales: {
        x: rankX(false, 0, 0, 0),
        y: leftY(0.5, 10.5, s.chartLeft, null, 0, null, 0, 0, true),
      },
    },
  };
}
function metricConfig(s: GseaSpec): any {
  return {
    type: 'scatter',
    data: {
      datasets: [{ data: toXY(s.metric), showLine: true, fill: 'origin', backgroundColor: '#b3b6b8', borderColor: '#b3b6b8', borderWidth: 0.6, pointRadius: 0 }],
    },
    options: {
      ...base(),
      layout: { padding: { left: 0, top: s.mPadTop, right: s.padRight, bottom: 0 } },
      scales: {
        x: rankX(true, s.mAxisH, s.xTitlePadBottom, s.xTickPad),
        y: leftY(s.mMin, s.mMax, s.chartLeft, METRIC_TICKS, 1, 'Ranked List Metric', s.titleSize, s.titlePad),
      },
    },
  };
}

const makeVolcano = () => volcanoConfig();
const makeKeggEs = () => esConfig(KEGG_SPEC);
const makeKeggHits = () => hitsConfig(KEGG_SPEC);
const makeKeggMetric = () => metricConfig(KEGG_SPEC);
const makeGoEs = () => esConfig(GO_SPEC);
const makeGoHits = () => hitsConfig(GO_SPEC);
const makeGoMetric = () => metricConfig(GO_SPEC);

function ChartCanvas({ x, y, w, h, make }: { x: number; y: number; w: number; h: number; make: () => any }) {
  const ref = useRef<HTMLCanvasElement | null>(null);
  useEffect(() => {
    if (!ref.current) return;
    const chart = new Chart(ref.current, make());
    return () => chart.destroy();
  }, [make]);
  return <canvas ref={ref} width={w} height={h} style={{ position: 'absolute', left: x, top: y, width: w, height: h, display: 'block' }} />;
}

function PanelLetter({ text, x, y, size, bold }: { text: string; x: number; y: number; size: number; bold?: boolean }) {
  return (
    <div style={{ position: 'absolute', left: x, top: y, fontFamily: FONT, fontSize: size, lineHeight: `${size}px`, fontWeight: bold ? 700 : 400, color: '#111' }}>
      {text}
    </div>
  );
}

export default function App() {
  return (
    <div style={{ position: 'absolute', left: 0, top: 0, width: 709, height: 1371, background: '#fff', overflow: 'hidden' }}>
      <PanelLetter text="A" x={144.5} y={2.5} size={11} bold />
      <ChartCanvas x={186} y={0} w={334} h={320} make={makeVolcano} />

      <PanelLetter text="B" x={0.5} y={359.5} size={14} />
      <ChartCanvas x={0} y={370} w={709} h={295} make={makeKeggEs} />
      <ChartCanvas x={0} y={665} w={709} h={98} make={makeKeggHits} />
      <ChartCanvas x={0} y={758} w={709} h={104} make={makeKeggMetric} />

      <PanelLetter text="C" x={0} y={850.5} size={14} />
      <ChartCanvas x={0} y={870} w={709} h={298} make={makeGoEs} />
      <ChartCanvas x={0} y={1168} w={709} h={101} make={makeGoHits} />
      <ChartCanvas x={0} y={1264} w={709} h={107} make={makeGoMetric} />
    </div>
  );
}
